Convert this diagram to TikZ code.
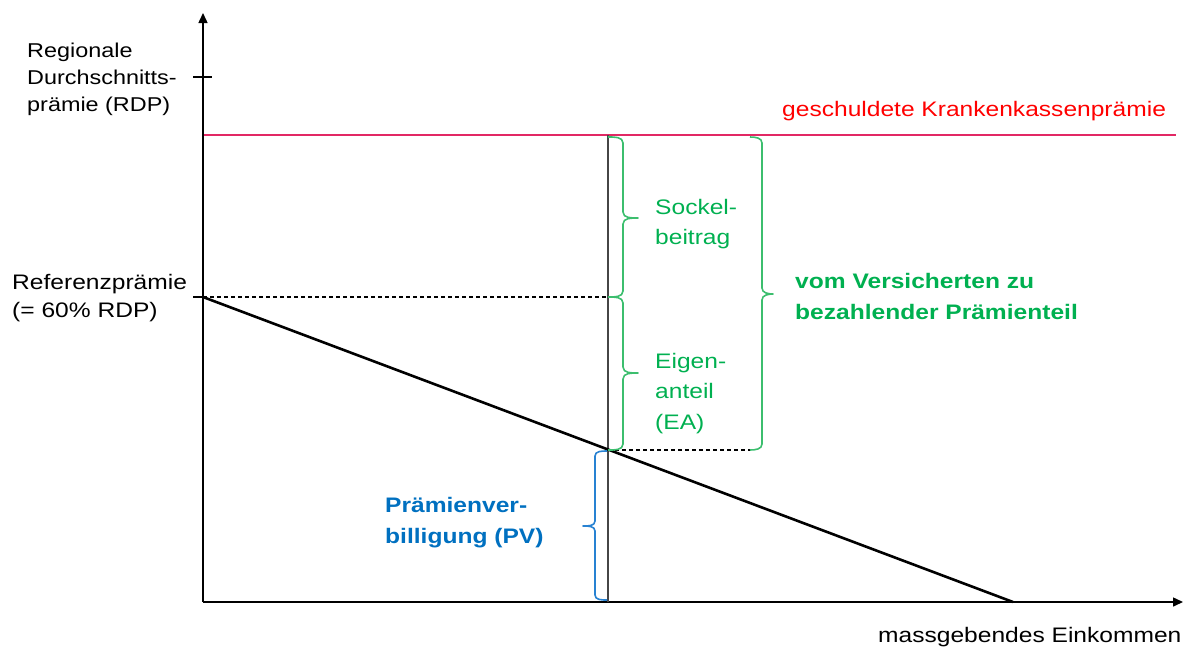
\documentclass[tikz,border=0pt]{standalone}
\usepackage{fontspec}
\setmainfont[FakeStretch=1.17]{Liberation Sans}
\usetikzlibrary{arrows.meta}
\definecolor{redline}{RGB}{226,40,100}
\definecolor{redtext}{RGB}{255,0,0}
\definecolor{gtext}{RGB}{0,176,80}
\definecolor{gbrace}{RGB}{60,190,110}
\definecolor{btext}{RGB}{0,112,192}
\definecolor{bbrace}{RGB}{40,130,210}
\definecolor{vline}{RGB}{70,70,70}
\tikzset{
  lbl/.style={inner sep=0pt, anchor=base west, align=left},
  axis/.style={line width=1.5pt, -{Triangle[length=10pt,width=9pt]}},
  dashline/.style={line width=1.3pt, dash pattern=on 4pt off 3pt},
  bracepath/.style={line width=1.6pt, line join=round},
}
\begin{document}
\begin{tikzpicture}[x=1pt,y=-1pt]
\useasboundingbox (0,0) rectangle (1187,649);
% key coordinates
\coordinate (O) at (203,602);
\coordinate (ytop) at (203,13);
\coordinate (xend) at (1183,602);
\coordinate (ref) at (203,297);
\coordinate (zero) at (1013,602);
\coordinate (vtop) at (608,135);
\coordinate (vbot) at (608,602);
\coordinate (refv) at (608,297);
\coordinate (cross) at (608,450);
\coordinate (dashend) at (751,450);
\coordinate (redend) at (1176,135);
% red line
\draw[redline, line width=1.7pt] (203,135) -- (redend);
% axes
\draw[axis] (O) -- (ytop);
\draw[axis] (O) -- (xend);
\draw[line width=1.5pt] (193,77) -- (212,77);
\draw[line width=1.5pt] (193,297) -- (ref);
% dashed lines
\draw[dashline] (ref) -- (refv);
\draw[dashline] (cross) -- (dashend);
% vertical line
\draw[vline, line width=1.8pt] (vtop) -- (vbot);
% diagonal
\draw[line width=2.6pt] (ref) -- (zero);
% braces
\draw[gbrace, bracepath] (608,137) to[out=0,in=90] (623,143) -- (623,212)
  to[out=-90,in=180] (638,218) to[out=180,in=90] (623,224) -- (623,291) to[out=-90,in=0] (608,297);
\draw[gbrace, bracepath] (608,297) to[out=0,in=90] (623,303) -- (623,367)
  to[out=-90,in=180] (638,373) to[out=180,in=90] (623,379) -- (623,444) to[out=-90,in=0] (608,450);
\draw[gbrace, bracepath] (750,137) to[out=0,in=90] (762,143) -- (762,288)
  to[out=-90,in=180] (773,294) to[out=180,in=90] (762,300) -- (762,444) to[out=-90,in=0] (750,450);
\draw[bbrace, bracepath] (607,451) to[out=180,in=90] (595,456) -- (595,521)
  to[out=-90,in=0] (583,526) to[out=0,in=90] (595,531) -- (595,595) to[out=-90,in=180] (607,600);
% texts (base anchor = baseline of last line)
\node[lbl, font=\fontsize{20}{27}\selectfont] (rdp) at (27,111) {Regionale\\Durchschnitts-\\prämie (RDP)};
\node[lbl, font=\fontsize{21}{28}\selectfont] (refp) at (12,317) {Referenzprämie\\(= 60\% RDP)};
\node[lbl, font=\fontsize{21}{28}\selectfont, text=redtext] (gkp) at (782,116) {geschuldete Krankenkassenprämie};
\node[lbl, font=\fontsize{21}{30}\selectfont, text=gtext] (sb) at (655,244) {Sockel-\\beitrag};
\node[lbl, font=\fontsize{21}{30.5}\selectfont, text=gtext] (ea) at (655,429) {Eigen-\\anteil\\(EA)};
\node[lbl, font=\fontsize{21}{31}\selectfont\bfseries, text=gtext] (vvz) at (795,319) {vom Versicherten zu\\bezahlender Prämienteil};
\node[lbl, font=\fontsize{21}{31}\selectfont\bfseries, text=btext] (pv) at (385,543) {Prämienver-\\billigung (PV)};
\node[lbl, font=\fontsize{21}{28}\selectfont] (me) at (878,642) {massgebendes Einkommen};
\end{tikzpicture}
\end{document}
